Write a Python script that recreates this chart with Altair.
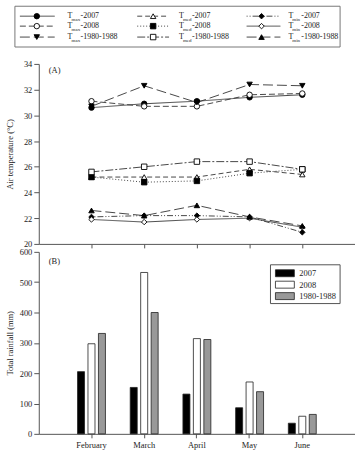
import altair as alt
import pandas as pd

months = ["February", "March", "April", "May", "June"]

# Air temperature (°C) per month
tmax_2007 = [30.6, 30.9, 31.1, 31.4, 31.6]
tmax_2008 = [31.1, 30.7, 30.7, 31.6, 31.7]
tmax_base = [30.7, 32.3, 31.0, 32.4, 32.3]
tmed_2007 = [25.2, 25.2, 25.2, 25.8, 25.4]
tmed_2008 = [25.2, 24.8, 24.9, 25.5, 25.8]
tmed_base = [25.6, 26.0, 26.4, 26.4, 25.8]
tmin_2007 = [22.1, 22.2, 22.2, 22.1, 20.9]
tmin_2008 = [21.9, 21.7, 21.9, 22.0, 21.3]
tmin_base = [22.6, 22.2, 23.0, 22.1, 21.4]

# Total rainfall (mm) per month
rain_2007 = [205, 153, 131, 86, 35]
rain_2008 = [297, 532, 314, 171, 58]
rain_base = [331, 400, 311, 139, 64]

periods = ["2007", "2008", "1980-1988"]
variables = ["max", "med", "min"]
bar_colors = ["#000000", "#ffffff", "#999999"]

temps = {
    ("max", "2007"): tmax_2007, ("med", "2007"): tmed_2007, ("min", "2007"): tmin_2007,
    ("max", "2008"): tmax_2008, ("med", "2008"): tmed_2008, ("min", "2008"): tmin_2008,
    ("max", "1980-1988"): tmax_base, ("med", "1980-1988"): tmed_base, ("min", "1980-1988"): tmin_base,
}
rains = {"2007": rain_2007, "2008": rain_2008, "1980-1988": rain_base}

FONT = "Liberation Serif"
INK = "#222222"
TEXT = dict(font=FONT, align="left", baseline="middle", fill=INK, opacity=0.99)

# series order: period-major, so a 3-column key reads max / med / min across
series = [f"T{v}-{p}" for p in periods for v in variables]
style = {
    "Tmax-2007": ([1, 0], "circle", "black"),
    "Tmed-2007": ([5, 3], "triangle-up", "white"),
    "Tmin-2007": ([1, 2, 1, 2, 6, 2], "diamond", "black"),
    "Tmax-2008": ([6, 3], "circle", "white"),
    "Tmed-2008": ([1, 2], "square", "black"),
    "Tmin-2008": ([1, 0], "diamond", "white"),
    "Tmax-1980-1988": ([10, 4], "triangle-down", "black"),
    "Tmed-1980-1988": ([8, 2, 2, 2], "square", "white"),
    "Tmin-1980-1988": ([10, 4], "triangle-up", "black"),
}
dash_scale = alt.Scale(domain=series, range=[style[s][0] for s in series])
shape_scale = alt.Scale(domain=series, range=[style[s][1] for s in series])
fill_scale = alt.Scale(domain=series, range=[style[s][2] for s in series])
period_scale = alt.Scale(domain=periods, range=bar_colors)

rows = []
for p in periods:
    for v in variables:
        for m, val in zip(months, temps[(v, p)]):
            rows.append({"month": m, "series": f"T{v}-{p}", "temp": val})
temp_df = pd.DataFrame(rows)

W = 318
H_A = 181
H_B = 183

x_a = alt.X("month:O", sort=months, scale=alt.Scale(type="point", padding=1),
            axis=alt.Axis(labels=False, title=None, tickSize=4))
y_a = alt.Y("temp:Q", scale=alt.Scale(domain=[20, 34], nice=False),
            axis=alt.Axis(values=list(range(20, 35, 2)), title="Air temperature (°C)",
                          titleX=-24, titleY=H_A / 2))

lines = alt.Chart(temp_df).mark_line(color="#333333", strokeWidth=0.9).encode(
    x=x_a, y=y_a,
    detail="series:N",
    strokeDash=alt.StrokeDash("series:N", scale=dash_scale, legend=None),
)
points = alt.Chart(temp_df).mark_point(filled=True, stroke="black", strokeWidth=0.9,
                                       size=30, opacity=1).encode(
    x=x_a, y=y_a,
    shape=alt.Shape("series:N", scale=shape_scale, legend=None),
    fill=alt.Fill("series:N", scale=fill_scale, legend=None),
)
tag_a = alt.Chart(pd.DataFrame({"t": ["(A)"]})).mark_text(fontSize=8.5, **TEXT).encode(
    text="t:N", x=alt.value(10), y=alt.value(6))

panel_a = alt.layer(lines, points, tag_a).properties(width=W, height=H_A)

# Rainfall bars
rain_rows = [{"month": m, "period": p, "rain": r}
             for p in periods for m, r in zip(months, rains[p])]
rain_df = pd.DataFrame(rain_rows)

bars = alt.Chart(rain_df).mark_bar(stroke=INK, strokeWidth=0.8).encode(
    x=alt.X("month:N", sort=months,
            scale=alt.Scale(paddingInner=0.47, paddingOuter=0.735),
            axis=alt.Axis(title=None, labelAngle=0, tickSize=4, labelPadding=3)),
    xOffset=alt.XOffset("period:N", sort=periods,
                        scale=alt.Scale(domain=periods, paddingInner=0.33, paddingOuter=0)),
    y=alt.Y("rain:Q", scale=alt.Scale(domain=[0, 600], nice=False),
            axis=alt.Axis(values=list(range(0, 601, 100)), title="Total rainfall (mm)",
                          titleX=-24, titleY=H_B / 2)),
    color=alt.Color("period:N", sort=periods, scale=period_scale, legend=None),
)
tag_b = alt.Chart(pd.DataFrame({"t": ["(B)"]})).mark_text(fontSize=8.5, **TEXT).encode(
    text="t:N", x=alt.value(10), y=alt.value(9))

# Boxed key for the rainfall periods, upper right of the bar panel
bkey_x, bkey_y, bkey_w, bkey_h = 233, 13, 70, 39
bkey_layers = [
    alt.Chart(pd.DataFrame({"k": [0]})).mark_rect(
        fillOpacity=0, stroke="#555555", strokeWidth=1
    ).encode(x=alt.value(bkey_x), x2=alt.value(bkey_x + bkey_w),
             y=alt.value(bkey_y), y2=alt.value(bkey_y + bkey_h))
]
for i, p in enumerate(periods):
    yc = bkey_y + 8.5 + 11.5 * i
    one = alt.Chart(pd.DataFrame({"period": [p], "label": [p]}))
    bkey_layers.append(one.mark_rect(stroke=INK, strokeWidth=0.8).encode(
        x=alt.value(bkey_x + 5), x2=alt.value(bkey_x + 24),
        y=alt.value(yc - 3.5), y2=alt.value(yc + 3.5),
        color=alt.Color("period:N", scale=period_scale, legend=None)))
    bkey_layers.append(one.mark_text(fontSize=8.5, **TEXT).encode(
        text="label:N", x=alt.value(bkey_x + 29), y=alt.value(yc)))

panel_b = alt.layer(bars, tag_b, *bkey_layers).properties(width=W, height=H_B)

# Line/marker key drawn above the temperature panel, 3 columns x 3 rows
col_line = [(-19, 16), (99, 131), (209, 243)]
col_mark = [-2, 115, 224]
col_text = [29, 141, 251]
row_y = [10, 20, 31]
key_rows = []
for i, s in enumerate(series):
    r, c = divmod(i, 3)
    key_rows.append({
        "series": s, "x0": col_line[c][0], "x1": col_line[c][1], "xm": col_mark[c],
        "xt": col_text[c], "xs": col_text[c] + 4, "xp": col_text[c] + 13, "y": row_y[r],
        "sub": variables[c], "suffix": "-" + periods[r],
    })
key_df = pd.DataFrame(key_rows)


def px(f):
    return alt.X(f"{f}:Q", scale=None, axis=None)


py = alt.Y("y:Q", scale=None, axis=None)

key_box = alt.Chart(pd.DataFrame({"k": [0]})).mark_rect(
    fillOpacity=0, stroke="#777777", strokeWidth=1
).encode(x=alt.value(-24), x2=alt.value(303), y=alt.value(0), y2=alt.value(41))
key_lines = alt.Chart(key_df).mark_rule(color="#333333", strokeWidth=0.9).encode(
    x=px("x0"), x2="x1:Q", y=py,
    strokeDash=alt.StrokeDash("series:N", scale=dash_scale, legend=None),
)
key_points = alt.Chart(key_df).mark_point(filled=True, stroke="black", strokeWidth=0.9,
                                          size=30, opacity=1).encode(
    x=px("xm"), y=py,
    shape=alt.Shape("series:N", scale=shape_scale, legend=None),
    fill=alt.Fill("series:N", scale=fill_scale, legend=None),
)
key_t = alt.Chart(key_df).mark_text(fontSize=8, **TEXT).encode(
    x=px("xt"), y=py, text=alt.value("T"))
key_sub = alt.Chart(key_df).mark_text(fontSize=5, dy=2.5, **TEXT).encode(
    x=px("xs"), y=py, text="sub:N")
key_suffix = alt.Chart(key_df).mark_text(fontSize=8, **TEXT).encode(
    x=px("xp"), y=py, text="suffix:N")

key = alt.layer(key_box, key_lines, key_points, key_t, key_sub, key_suffix).properties(
    width=W, height=41)

panels = alt.vconcat(panel_a, panel_b, spacing=-1).resolve_scale(color="independent")

chart = alt.vconcat(key, panels, spacing=12).resolve_scale(
    color="independent").properties(
    padding={"left": 6, "top": 4, "right": 0, "bottom": 2},
).configure_view(stroke=None).configure_axis(
    labelFont=FONT, labelFontSize=8.5, labelColor=INK, labelPadding=2,
    titleFont=FONT, titleFontSize=8.5, titleFontWeight="normal", titleColor=INK,
    domainColor="#555555", tickColor="#555555", grid=False,
)

chart.save("out.html", embed_options={"renderer": "svg", "actions": False})
